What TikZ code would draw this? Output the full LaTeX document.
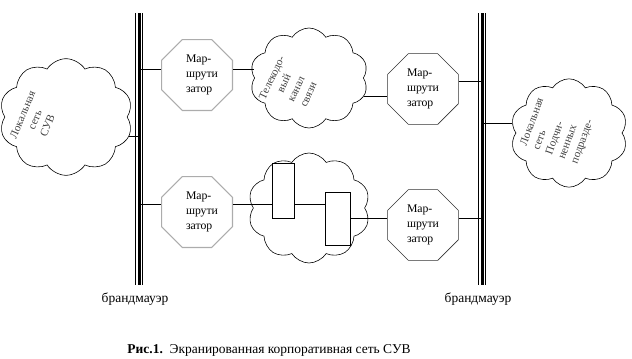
\documentclass[tikz,border=0pt]{standalone}
\usepackage{fontspec}
\setmainfont{Liberation Serif}
\usetikzlibrary{shapes.geometric,shapes.symbols,positioning}

\begin{document}
\begin{tikzpicture}[
  x=0.3mm, y=-0.3mm,
  router/.style={regular polygon, regular polygon sides=8, draw=gray!65, line width=1pt, minimum size=23mm, inner sep=0pt, align=left, font=\fontsize{10}{12.5}\selectfont},
  routerdark/.style={router, draw=black!80, line width=0.5pt},
  net/.style={cloud, cloud puffs=10, cloud puff arc=115, cloud ignores aspect, draw, line width=0.5pt, inner sep=0pt},
  nettext/.style={align=center, text=black!75, inner sep=0pt, font=\fontsize{9.5}{11.5}\selectfont},
  modem/.style={draw, line width=0.5pt, inner sep=0pt},
  wallname/.style={font=\fontsize{11.5}{13}\selectfont}
]
  \useasboundingbox (0,0) rectangle (632,359);

  % firewalls
  \foreach \fw/\xx in {fwL/139, fwR/482} {
    \coordinate (\fw top) at (\xx,13);
    \coordinate (\fw bot) at (\xx,285);
    \draw[line width=0.9mm] (\fw top) -- (\fw bot);
    \draw[line width=0.3mm] ([xshift=-1.05mm]\fw top) -- ([xshift=-1.05mm]\fw bot);
    \draw[line width=0.3mm] ([xshift=1.05mm]\fw top) -- ([xshift=1.05mm]\fw bot);
  }
  \node[wallname] (wL) at (135,299) {брандмауэр};
  \node[wallname] (wR) at (478,299) {брандмауэр};

  % routers
  \node[router] (rTL) at (197,75) {\hspace*{3mm}Мар-\\\hspace*{3mm}шрути\\\hspace*{3mm}затор};
  \node[router] (rBL) at (197,212) {\hspace*{3mm}Мар-\\\hspace*{3mm}шрути\\\hspace*{3mm}затор};
  \node[routerdark] (rTR) at (423,89) {Мар-\\шрути\\затор};
  \node[routerdark] (rBR) at (423,225) {Мар-\\шрути\\затор};

  % clouds
  \node[net, minimum width=40mm, minimum height=35mm] (cLoc) at (66,117) {};
  \node[net, minimum width=35.4mm, minimum height=30mm] (cTel) at (309,78) {};
  \node[net, minimum width=36.6mm, minimum height=33mm] (cBot) at (309,208) {};
  \node[net, minimum width=35.1mm, minimum height=32.5mm] (cSub) at (569,133) {};

  \node[nettext, rotate=67] (tLoc) at (35,120) {Локальная\\сеть\\СУВ};
  \node[nettext, rotate=65] (tTel) at (290,86) {Телекодо-\\вый\\канал\\связи};
  \node[nettext, rotate=70, align=left] (tSub) at (558,131) {Локальная\\сеть\\Подчи-\\ненных\\подразде-};

  % units inside the channel cloud
  \node[modem, minimum width=6.6mm, minimum height=16.5mm] (m1) at (283,190.5) {};
  \node[modem, minimum width=7.5mm, minimum height=15.9mm] (m2) at (337.5,218.5) {};

  % links
  \draw (cLoc.-17) -- (cLoc.-17 -| fwLtop);
  \draw ([yshift=1.8mm]rTL.west) -- ([yshift=1.8mm]rTL.west -| fwLtop);
  \draw ([yshift=1.8mm]rTL.east) -- ([yshift=1.8mm]rTL.east -| cTel.west);
  \draw (cTel.-18) -- (cTel.-18 -| rTR.west);
  \draw ([yshift=2.4mm]rTR.east) -- ([yshift=2.4mm]rTR.east -| fwRtop);
  \draw (cSub.170) -- (cSub.170 -| fwRtop);
  \draw ([yshift=2.4mm]rBL.west) -- ([yshift=2.4mm]rBL.west -| fwLtop);
  \draw ([yshift=2.4mm]rBL.east) coordinate (b1) -- (b1 -| m1.west);
  \draw (b1 -| m1.east) -- (b1 -| m2.west);
  \draw (m2.east) -- (m2.east -| rBR.west);
  \draw ([yshift=2.1mm]rBR.east) -- ([yshift=2.1mm]rBR.east -| fwRtop);

  \node[wallname] (cap) at (269,350) {\textbf{Рис.1.}\ \ Экранированная корпоративная сеть СУВ};
\end{tikzpicture}
\end{document}
